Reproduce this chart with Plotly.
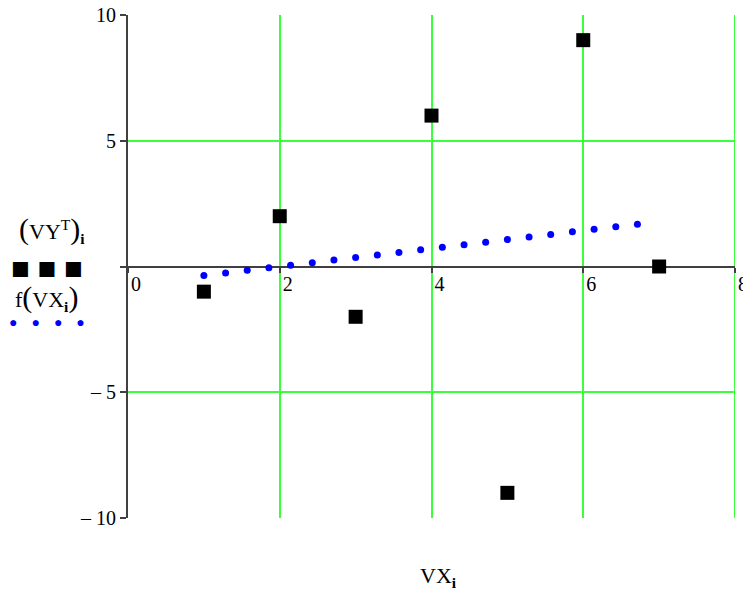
import plotly.graph_objects as go

# Data points (VX, VY)
vx = [1, 2, 3, 4, 5, 6, 7]
vy = [-1, 2, -2, 6, -9, 9, 0]

# Fitted function samples f(x)
fx = [1.0, 1.286, 1.571, 1.857, 2.143, 2.429, 2.714, 3.0, 3.286, 3.571, 3.857,
      4.143, 4.429, 4.714, 5.0, 5.286, 5.571, 5.857, 6.143, 6.429, 6.714]
fy = [-0.357, -0.255, -0.153, -0.051, 0.051, 0.153, 0.255, 0.357, 0.459, 0.561, 0.663,
      0.765, 0.867, 0.969, 1.071, 1.173, 1.276, 1.378, 1.480, 1.582, 1.684]

x_ticks = [0, 2, 4, 6, 8]
x_labels = ["0", "2", "4", "6", "8"]
y_ticks = [-10, -5, 0, 5, 10]
y_labels = ["\u2013 10", "\u2013 5", "", "5", "10"]

GRID = "#3cff3c"
AX = "#404040"
FONT = "Liberation Serif"
W, H = 743, 592
ML, MR, MT, MB = 128, 8, 15, 74

fig = go.Figure()
fig.add_trace(go.Scatter(x=fx, y=fy, mode="markers",
                         marker=dict(symbol="circle", size=7, color="#0000ff"),
                         showlegend=False, cliponaxis=False))
fig.add_trace(go.Scatter(x=vx, y=vy, mode="markers",
                         marker=dict(symbol="square", size=14, color="black"),
                         showlegend=False, cliponaxis=False))

# grid line at the right end of the x range (plotly skips it at the edge)
fig.add_shape(type="line", xref="x", yref="y", x0=x_ticks[-1], x1=x_ticks[-1],
              y0=y_ticks[0], y1=y_ticks[-1], line=dict(color=GRID, width=2), layer="below")

fig.update_layout(
    width=W, height=H,
    margin=dict(l=ML, r=MR, t=MT, b=MB, autoexpand=False),
    paper_bgcolor="white", plot_bgcolor="white",
    font=dict(family=FONT, size=20, color="black"),
    xaxis=dict(range=[0, 8], tickvals=x_ticks, ticktext=x_labels,
               showgrid=True, gridcolor=GRID, gridwidth=2,
               zeroline=False, showline=False, automargin=False,
               anchor="free", position=0.5,
               ticks="outside", ticklen=5, tickcolor=AX, tickwidth=1.5,
               ticklabelshift=8, ticklabelstandoff=-6, ticklabeloverflow="allow",
               tickfont=dict(family=FONT, size=20, color="black")),
    yaxis=dict(range=[-10, 10], tickvals=y_ticks, ticktext=y_labels,
               showgrid=True, gridcolor=GRID, gridwidth=2,
               zeroline=True, zerolinecolor=AX, zerolinewidth=2,
               showline=True, linecolor=AX, linewidth=2, automargin=False,
               ticks="outside", ticklen=6, tickcolor=AX, tickwidth=1.5,
               ticklabelshift=0,
               tickfont=dict(family=FONT, size=20, color="black")),
)

BIG = "<span style='font-size:30px'>"
ann = [
    dict(text=BIG + "(</span>VY<sup>T</sup>" + BIG + ")</span><sub><b>i</b></sub>",
         x=52, y=229, size=22, color="black"),
    dict(text="\u25A0\u2005\u25A0\u2005\u25A0", x=47, y=268, size=31, color="black"),
    dict(text="f" + BIG + "(</span>VX<sub><b>i</b></sub>" + BIG + ")</span>",
         x=46, y=297, size=22, color="black"),
    dict(text="\u25CF\u2003\u25CF\u2003\u25CF\u2003\u25CF", x=47, y=322, size=14, color="#0000ff"),
    dict(text="VX<sub><b>i</b></sub>", x=438, y=577, size=22, color="black"),
]
for a in ann:
    fig.add_annotation(text=a["text"], xref="paper", yref="paper",
                       x=(a["x"] - ML) / (W - ML - MR),
                       y=1 - (a["y"] - MT) / (H - MT - MB),
                       showarrow=False, xanchor="center", yanchor="middle",
                       font=dict(family=FONT, size=a["size"], color=a["color"]))

fig.write_html("out.html", config={"displayModeBar": False},
               post_script="document.body.style.margin='0';")
